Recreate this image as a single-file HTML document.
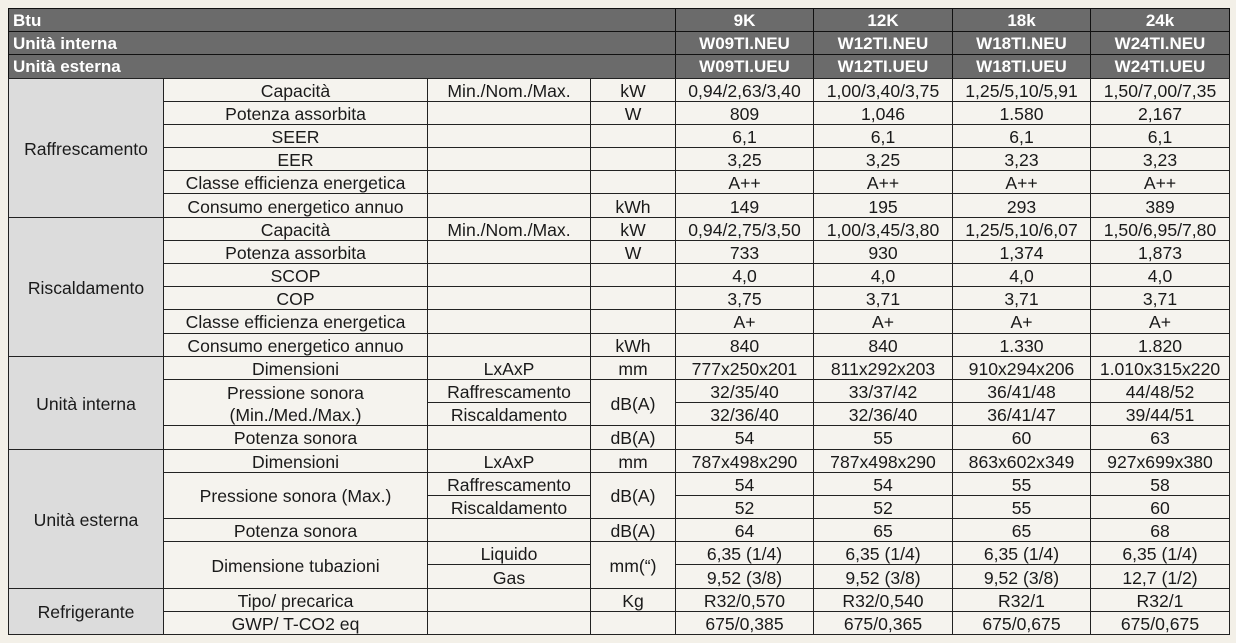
<!DOCTYPE html>
<html><head><meta charset="utf-8">
<style>
html,body{margin:0;padding:0;}
body{width:1236px;height:643px;background:#f3f0e8;position:relative;overflow:hidden;font-family:"Liberation Sans",sans-serif;}
.c{position:absolute;box-sizing:border-box;border:1px solid #222;background:#f5f3ee;color:#1a1a1a;font-size:17.6px;display:flex;align-items:center;justify-content:center;text-align:center;line-height:22px;padding-top:2px;white-space:nowrap;
top:calc(8px + var(--r) * 23.185px);height:calc(var(--h,1) * 23.185px + 1px);}
.h{background:#6b6b6b;color:#fff;font-weight:bold;font-size:17px;border-color:#111;}
.hl{justify-content:flex-start;padding-left:4px;}
.cat{background:#dcdcdc;}
.k0{left:8px;width:156px;}
.k1{left:163px;width:265px;}
.k2{left:427px;width:164px;}
.k3{left:590px;width:86px;}
.kL{left:8px;width:668px;}
.d1{left:675px;width:139px;}
.d2{left:813px;width:140px;}
.d3{left:952px;width:139px;}
.d4{left:1090px;width:140px;}
</style></head><body>

<!-- header -->
<div class="c h hl kL" style="--r:0">Btu</div>
<div class="c h d1" style="--r:0">9K</div><div class="c h d2" style="--r:0">12K</div><div class="c h d3" style="--r:0">18k</div><div class="c h d4" style="--r:0">24k</div>
<div class="c h hl kL" style="--r:1">Unità interna</div>
<div class="c h d1" style="--r:1">W09TI.NEU</div><div class="c h d2" style="--r:1">W12TI.NEU</div><div class="c h d3" style="--r:1">W18TI.NEU</div><div class="c h d4" style="--r:1">W24TI.NEU</div>
<div class="c h hl kL" style="--r:2">Unità esterna</div>
<div class="c h d1" style="--r:2">W09TI.UEU</div><div class="c h d2" style="--r:2">W12TI.UEU</div><div class="c h d3" style="--r:2">W18TI.UEU</div><div class="c h d4" style="--r:2">W24TI.UEU</div>

<!-- Raffrescamento -->
<div class="c cat k0" style="--r:3;--h:6">Raffrescamento</div>
<div class="c k1" style="--r:3">Capacità</div><div class="c k2" style="--r:3">Min./Nom./Max.</div><div class="c k3" style="--r:3">kW</div>
<div class="c d1" style="--r:3">0,94/2,63/3,40</div><div class="c d2" style="--r:3">1,00/3,40/3,75</div><div class="c d3" style="--r:3">1,25/5,10/5,91</div><div class="c d4" style="--r:3">1,50/7,00/7,35</div>
<div class="c k1" style="--r:4">Potenza assorbita</div><div class="c k2" style="--r:4"></div><div class="c k3" style="--r:4">W</div>
<div class="c d1" style="--r:4">809</div><div class="c d2" style="--r:4">1,046</div><div class="c d3" style="--r:4">1.580</div><div class="c d4" style="--r:4">2,167</div>
<div class="c k1" style="--r:5">SEER</div><div class="c k2" style="--r:5"></div><div class="c k3" style="--r:5"></div>
<div class="c d1" style="--r:5">6,1</div><div class="c d2" style="--r:5">6,1</div><div class="c d3" style="--r:5">6,1</div><div class="c d4" style="--r:5">6,1</div>
<div class="c k1" style="--r:6">EER</div><div class="c k2" style="--r:6"></div><div class="c k3" style="--r:6"></div>
<div class="c d1" style="--r:6">3,25</div><div class="c d2" style="--r:6">3,25</div><div class="c d3" style="--r:6">3,23</div><div class="c d4" style="--r:6">3,23</div>
<div class="c k1" style="--r:7">Classe efficienza energetica</div><div class="c k2" style="--r:7"></div><div class="c k3" style="--r:7"></div>
<div class="c d1" style="--r:7">A++</div><div class="c d2" style="--r:7">A++</div><div class="c d3" style="--r:7">A++</div><div class="c d4" style="--r:7">A++</div>
<div class="c k1" style="--r:8">Consumo energetico annuo</div><div class="c k2" style="--r:8"></div><div class="c k3" style="--r:8">kWh</div>
<div class="c d1" style="--r:8">149</div><div class="c d2" style="--r:8">195</div><div class="c d3" style="--r:8">293</div><div class="c d4" style="--r:8">389</div>

<!-- Riscaldamento -->
<div class="c cat k0" style="--r:9;--h:6">Riscaldamento</div>
<div class="c k1" style="--r:9">Capacità</div><div class="c k2" style="--r:9">Min./Nom./Max.</div><div class="c k3" style="--r:9">kW</div>
<div class="c d1" style="--r:9">0,94/2,75/3,50</div><div class="c d2" style="--r:9">1,00/3,45/3,80</div><div class="c d3" style="--r:9">1,25/5,10/6,07</div><div class="c d4" style="--r:9">1,50/6,95/7,80</div>
<div class="c k1" style="--r:10">Potenza assorbita</div><div class="c k2" style="--r:10"></div><div class="c k3" style="--r:10">W</div>
<div class="c d1" style="--r:10">733</div><div class="c d2" style="--r:10">930</div><div class="c d3" style="--r:10">1,374</div><div class="c d4" style="--r:10">1,873</div>
<div class="c k1" style="--r:11">SCOP</div><div class="c k2" style="--r:11"></div><div class="c k3" style="--r:11"></div>
<div class="c d1" style="--r:11">4,0</div><div class="c d2" style="--r:11">4,0</div><div class="c d3" style="--r:11">4,0</div><div class="c d4" style="--r:11">4,0</div>
<div class="c k1" style="--r:12">COP</div><div class="c k2" style="--r:12"></div><div class="c k3" style="--r:12"></div>
<div class="c d1" style="--r:12">3,75</div><div class="c d2" style="--r:12">3,71</div><div class="c d3" style="--r:12">3,71</div><div class="c d4" style="--r:12">3,71</div>
<div class="c k1" style="--r:13">Classe efficienza energetica</div><div class="c k2" style="--r:13"></div><div class="c k3" style="--r:13"></div>
<div class="c d1" style="--r:13">A+</div><div class="c d2" style="--r:13">A+</div><div class="c d3" style="--r:13">A+</div><div class="c d4" style="--r:13">A+</div>
<div class="c k1" style="--r:14">Consumo energetico annuo</div><div class="c k2" style="--r:14"></div><div class="c k3" style="--r:14">kWh</div>
<div class="c d1" style="--r:14">840</div><div class="c d2" style="--r:14">840</div><div class="c d3" style="--r:14">1.330</div><div class="c d4" style="--r:14">1.820</div>

<!-- Unità interna -->
<div class="c cat k0" style="--r:15;--h:4">Unità interna</div>
<div class="c k1" style="--r:15">Dimensioni</div><div class="c k2" style="--r:15">LxAxP</div><div class="c k3" style="--r:15">mm</div>
<div class="c d1" style="--r:15">777x250x201</div><div class="c d2" style="--r:15">811x292x203</div><div class="c d3" style="--r:15">910x294x206</div><div class="c d4" style="--r:15">1.010x315x220</div>
<div class="c k1" style="--r:16;--h:2">Pressione sonora<br>(Min./Med./Max.)</div>
<div class="c k2" style="--r:16">Raffrescamento</div><div class="c k3" style="--r:16;--h:2">dB(A)</div>
<div class="c d1" style="--r:16">32/35/40</div><div class="c d2" style="--r:16">33/37/42</div><div class="c d3" style="--r:16">36/41/48</div><div class="c d4" style="--r:16">44/48/52</div>
<div class="c k2" style="--r:17">Riscaldamento</div>
<div class="c d1" style="--r:17">32/36/40</div><div class="c d2" style="--r:17">32/36/40</div><div class="c d3" style="--r:17">36/41/47</div><div class="c d4" style="--r:17">39/44/51</div>
<div class="c k1" style="--r:18">Potenza sonora</div><div class="c k2" style="--r:18"></div><div class="c k3" style="--r:18">dB(A)</div>
<div class="c d1" style="--r:18">54</div><div class="c d2" style="--r:18">55</div><div class="c d3" style="--r:18">60</div><div class="c d4" style="--r:18">63</div>

<!-- Unità esterna -->
<div class="c cat k0" style="--r:19;--h:6">Unità esterna</div>
<div class="c k1" style="--r:19">Dimensioni</div><div class="c k2" style="--r:19">LxAxP</div><div class="c k3" style="--r:19">mm</div>
<div class="c d1" style="--r:19">787x498x290</div><div class="c d2" style="--r:19">787x498x290</div><div class="c d3" style="--r:19">863x602x349</div><div class="c d4" style="--r:19">927x699x380</div>
<div class="c k1" style="--r:20;--h:2">Pressione sonora (Max.)</div>
<div class="c k2" style="--r:20">Raffrescamento</div><div class="c k3" style="--r:20;--h:2">dB(A)</div>
<div class="c d1" style="--r:20">54</div><div class="c d2" style="--r:20">54</div><div class="c d3" style="--r:20">55</div><div class="c d4" style="--r:20">58</div>
<div class="c k2" style="--r:21">Riscaldamento</div>
<div class="c d1" style="--r:21">52</div><div class="c d2" style="--r:21">52</div><div class="c d3" style="--r:21">55</div><div class="c d4" style="--r:21">60</div>
<div class="c k1" style="--r:22">Potenza sonora</div><div class="c k2" style="--r:22"></div><div class="c k3" style="--r:22">dB(A)</div>
<div class="c d1" style="--r:22">64</div><div class="c d2" style="--r:22">65</div><div class="c d3" style="--r:22">65</div><div class="c d4" style="--r:22">68</div>
<div class="c k1" style="--r:23;--h:2">Dimensione tubazioni</div>
<div class="c k2" style="--r:23">Liquido</div><div class="c k3" style="--r:23;--h:2">mm(“)</div>
<div class="c d1" style="--r:23">6,35 (1/4)</div><div class="c d2" style="--r:23">6,35 (1/4)</div><div class="c d3" style="--r:23">6,35 (1/4)</div><div class="c d4" style="--r:23">6,35 (1/4)</div>
<div class="c k2" style="--r:24">Gas</div>
<div class="c d1" style="--r:24">9,52 (3/8)</div><div class="c d2" style="--r:24">9,52 (3/8)</div><div class="c d3" style="--r:24">9,52 (3/8)</div><div class="c d4" style="--r:24">12,7 (1/2)</div>

<!-- Refrigerante -->
<div class="c cat k0" style="--r:25;--h:2">Refrigerante</div>
<div class="c k1" style="--r:25">Tipo/ precarica</div><div class="c k2" style="--r:25"></div><div class="c k3" style="--r:25">Kg</div>
<div class="c d1" style="--r:25">R32/0,570</div><div class="c d2" style="--r:25">R32/0,540</div><div class="c d3" style="--r:25">R32/1</div><div class="c d4" style="--r:25">R32/1</div>
<div class="c k1" style="--r:26">GWP/ T-CO2 eq</div><div class="c k2" style="--r:26"></div><div class="c k3" style="--r:26"></div>
<div class="c d1" style="--r:26">675/0,385</div><div class="c d2" style="--r:26">675/0,365</div><div class="c d3" style="--r:26">675/0,675</div><div class="c d4" style="--r:26">675/0,675</div>

</body></html>
